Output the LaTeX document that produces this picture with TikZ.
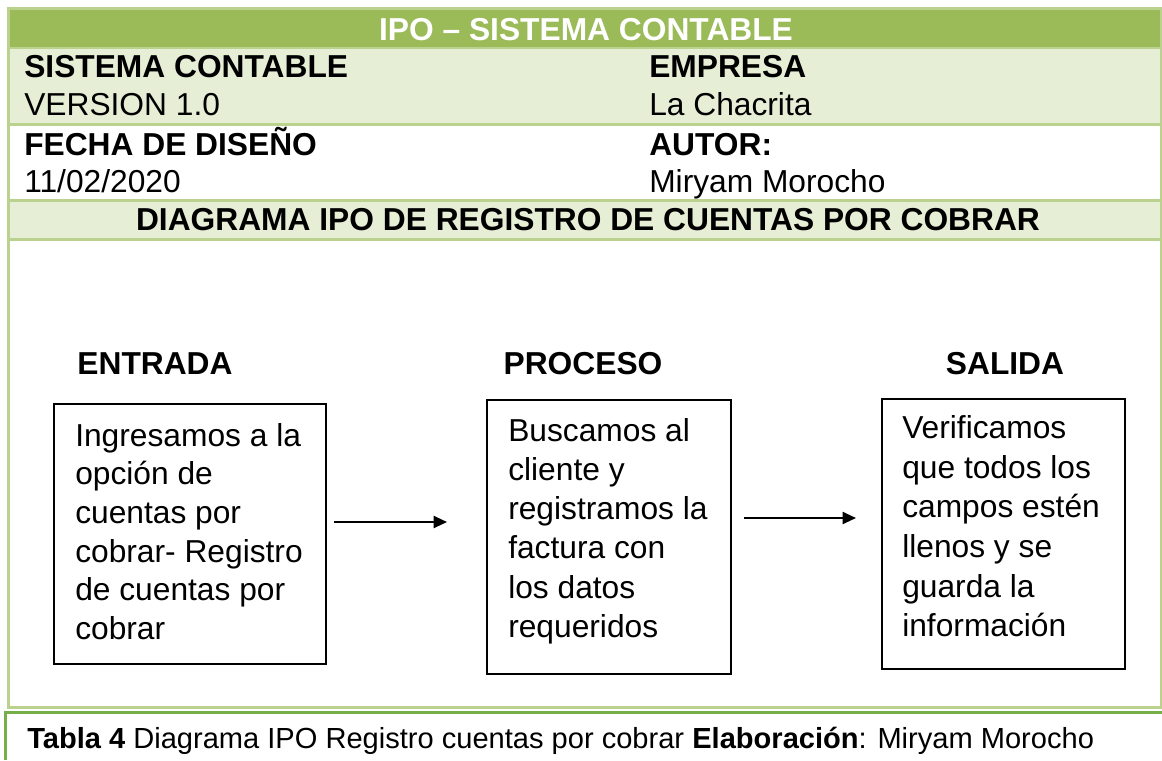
\documentclass[tikz,border=0pt]{standalone}
\usepackage{fontspec}
\setmainfont{Liberation Sans}
\usetikzlibrary{arrows.meta}
\definecolor{hdr}{RGB}{155,187,89}
\definecolor{lite}{RGB}{230,238,214}
\definecolor{brd}{RGB}{186,210,142}
\definecolor{capbrd}{RGB}{118,174,72}
\begin{document}
\begin{tikzpicture}[x=0.75pt,y=-0.75pt,
  txt/.style={anchor=base west, inner sep=0pt, font=\fontsize{23.8}{28.8}\selectfont},
  btxt/.style={txt, font=\bfseries\fontsize{23.8}{28.8}\selectfont},
  ctxt/.style={btxt, anchor=base},
  ipobox/.style={draw=black, line width=1.3pt, anchor=north west, inner sep=0pt},
  boxtext/.style={anchor=north west, inner sep=0pt, align=left},
  tline/.style={brd, line width=2.25pt},
  arr/.style={line width=1.5pt, -{Triangle[length=10pt,width=9pt]}}
]
\useasboundingbox (0,0) rectangle (1162,760);
% row fills
\fill[hdr] (8.5,10) rectangle (1160.5,47);
\fill[lite] (8.5,49) rectangle (1160.5,123);
\fill[lite] (8.5,202) rectangle (1160.5,238);
% table borders
\draw[tline] (7,8.5) -- (1162,8.5);
\draw[brd, line width=1.5pt] (8.5,48) -- (1160.5,48);
\draw[tline] (8.5,124.5) -- (1160.5,124.5);
\draw[tline] (8.5,200.5) -- (1160.5,200.5);
\draw[tline] (8.5,239.5) -- (1160.5,239.5);
\draw[tline] (7,707.5) -- (1162,707.5);
\draw[tline] (8.5,7) -- (8.5,709);
\draw[tline] (1161,7) -- (1161,709);
% caption frame
\draw[capbrd, line width=2.25pt] (5,760) -- (5,712) -- (1162,712);

% header texts
\node[ctxt, text=white] (title) at (586,40) {IPO – SISTEMA CONTABLE};
\node[btxt] (sis) at (24,77) {SISTEMA CONTABLE};
\node[txt] (ver) at (24,115) {VERSION 1.0};
\node[btxt] (emp) at (649,77) {EMPRESA};
\node[txt] (emn) at (649,115) {La Chacrita};
\node[btxt] (fec) at (24,155) {FECHA DE DISEÑO};
\node[txt] (fev) at (24,192) {11/02/2020};
\node[btxt] (aut) at (649,155) {AUTOR:};
\node[txt] (aun) at (649,192) {Miryam Morocho};
\node[ctxt] (diag) at (588,230) {DIAGRAMA IPO DE REGISTRO DE CUENTAS POR COBRAR};

% section labels
\node[ctxt] (ent) at (155,374) {ENTRADA};
\node[ctxt] (pro) at (583,374) {PROCESO};
\node[ctxt] (sal) at (1005,374) {SALIDA};

% boxes
\node[ipobox, minimum width=272*0.75pt, minimum height=260*0.75pt] (b1) at (53,403) {};
\node[ipobox, minimum width=244*0.75pt, minimum height=274*0.75pt] (b2) at (486,399) {};
\node[ipobox, minimum width=243*0.75pt, minimum height=270*0.75pt] (b3) at (881,398) {};

\node[boxtext, font=\fontsize{23.8}{29}\selectfont] (t1) at (75,423)
  {Ingresamos a la\\opción de\\cuentas por\\cobrar- Registro\\de cuentas por\\cobrar};
\node[boxtext, font=\fontsize{23.8}{29.4}\selectfont] (t2) at (508,418)
  {Buscamos al\\cliente y\\registramos la\\factura con\\los datos\\requeridos};
\node[boxtext, font=\fontsize{23.8}{29.8}\selectfont] (t3) at (902,415)
  {Verificamos\\que todos los\\campos estén\\llenos y se\\guarda la\\información};

% arrows
\coordinate (a1s) at (334,522);
\coordinate (a1e) at (447,522);
\coordinate (a2s) at (744,518);
\coordinate (a2e) at (856,518);
\draw[arr] (a1s) -- (a1e);
\draw[arr] (a2s) -- (a2e);

% caption
\node[txt, font=\fontsize{21.8}{26}\selectfont] (cap) at (27,748) {\textbf{Tabla 4} Diagrama IPO Registro cuentas por cobrar \textbf{Elaboración}: Miryam Morocho};
\end{tikzpicture}
\end{document}
